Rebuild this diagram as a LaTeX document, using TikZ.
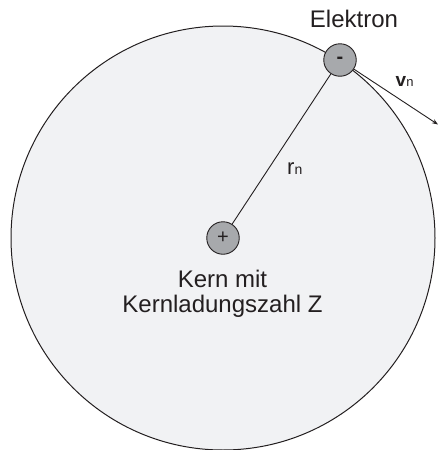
\documentclass[tikz,border=0pt]{standalone}
\usepackage{fontspec}
\setmainfont{Liberation Sans}
\usetikzlibrary{arrows.meta}
\definecolor{atomfill}{HTML}{F1F2F4}
\definecolor{partfill}{HTML}{A7A9AC}
\definecolor{ink}{HTML}{231F20}
\begin{document}
\begin{tikzpicture}[x=1pt,y=-1pt,
  particle/.style={circle,draw=ink,fill=partfill,line width=0.9pt,minimum size=32.5pt,inner sep=0pt,text=ink,font=\fontsize{20}{20}\selectfont},
  lbl/.style={text=ink,inner sep=0pt},
  conn/.style={draw=ink,line width=0.9pt}]
\useasboundingbox (0,0) rectangle (437,450);
\node[circle,draw=ink,fill=atomfill,line width=1pt,minimum size=424pt,inner sep=0pt] (atom) at (223,238) {};
\node[particle] (kern) at (223,238) {+};
\node[particle,font=\fontsize{20}{20}\selectfont\bfseries] (elek) at (340,60) {-};
\coordinate (vend) at (438,124.5);
\draw[conn] (elek) -- (kern);
\draw[conn,-{Stealth[length=6pt,width=4.5pt]}] (elek) -- (vend);
\node[lbl,anchor=base,font=\fontsize{24}{24}\selectfont] (elabel) at (354,27) {Elektron};
\node[lbl,anchor=base west] (rlabel) at (287,174) {\fontsize{22}{22}\selectfont r\fontsize{14}{14}\selectfont n};
\node[lbl,anchor=base west] (vlabel) at (395.5,86) {\fontsize{19}{19}\selectfont\bfseries v\fontsize{13}{13}\selectfont\mdseries n};
\node[lbl,anchor=base,font=\fontsize{24}{24}\selectfont] (k1) at (222.5,287) {Kern mit};
\node[lbl,anchor=base,font=\fontsize{24}{24}\selectfont] (k2) at (222.5,312) {Kernladungszahl Z};
\end{tikzpicture}
\end{document}
